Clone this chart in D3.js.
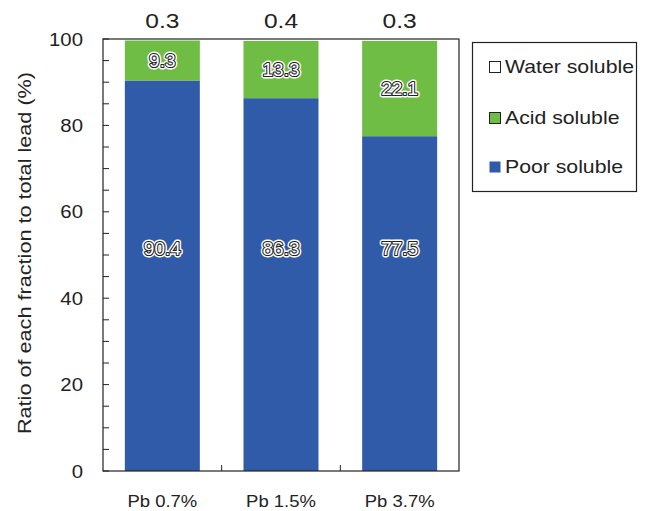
<!DOCTYPE html>
<html><head><meta charset="utf-8">
<script src="https://cdn.jsdelivr.net/npm/d3@7"></script>
<style>body{margin:0;background:#fff}svg{display:block}text{font-family:"Liberation Sans",Arial,sans-serif}</style>
</head><body>
<svg id="c" width="648" height="511"></svg>
<script>
const categories = ["Pb 0.7%", "Pb 1.5%", "Pb 3.7%"];
const poorSoluble = [90.4, 86.3, 77.5];
const acidSoluble = [9.3, 13.3, 22.1];
const waterSoluble = [0.3, 0.4, 0.3];
const yTicks = [0, 20, 40, 60, 80, 100];
const seriesNames = ["Water soluble", "Acid soluble", "Poor soluble"];
const colors = {"Poor soluble": "#305BA9", "Acid soluble": "#70BD45", "Water soluble": "#ffffff"};

const svg = d3.select("#c");
const m = {l: 103, r: 459, t: 39, b: 471};
const x = d3.scaleBand().domain(categories).range([m.l, m.r]).paddingInner(0.368).paddingOuter(0.184);
const y = d3.scaleLinear().domain([0, 100]).range([m.b, m.t]);

const rows = categories.map((c, i) => ({cat: c, "Poor soluble": poorSoluble[i], "Acid soluble": acidSoluble[i], "Water soluble": waterSoluble[i]}));
const stack = d3.stack().keys(["Poor soluble", "Acid soluble", "Water soluble"])(rows);

stack.forEach(s => {
  svg.append("g").selectAll("rect").data(s).join("rect")
    .attr("x", d => x(d.data.cat)).attr("width", x.bandwidth())
    .attr("y", d => y(d[1])).attr("height", d => y(d[0]) - y(d[1]))
    .attr("fill", colors[s.key]);
});

// frame
svg.append("rect").attr("x", m.l).attr("y", m.t).attr("width", m.r - m.l).attr("height", m.b - m.t)
  .attr("fill", "none").attr("stroke", "#222").attr("stroke-width", 1.2);

// stretched text helper
function stext(g, px, py, t, size, sx, anchor, rot) {
  return g.append("text")
    .attr("transform", `translate(${px},${py})${rot ? " rotate(" + rot + ")" : ""} scale(${sx},1)`)
    .attr("text-anchor", anchor).attr("dy", "0.36em")
    .attr("font-size", size).attr("fill", "#222").text(t);
}

// y axis ticks (inside)
const minor = d3.range(0, 101, 5);
svg.append("g").selectAll("line").data(minor).join("line")
  .attr("x1", m.l).attr("x2", m.l + 6).attr("y1", d => y(d)).attr("y2", d => y(d))
  .attr("stroke", "#222").attr("stroke-width", 1);
yTicks.forEach(v => stext(svg, 83, y(v), v, 18.5, 1.1, "end"));

// x ticks between bands
const step = x.step();
svg.append("g").selectAll("line").data(categories.slice(1)).join("line")
  .attr("x1", d => x(d) - x.paddingInner() * step / 2).attr("x2", d => x(d) - x.paddingInner() * step / 2)
  .attr("y1", m.b).attr("y2", m.b - 6).attr("stroke", "#222");
categories.forEach(c => stext(svg, x(c) + x.bandwidth() / 2, 501, c, 16.5, 1.12, "middle"));

// y title
stext(svg, 24, (m.t + m.b) / 2 - 2, "Ratio of each fraction to total lead (%)", 19, 1.14, "middle", -90);

// outlined labels
function outlined(xp, yp, t) {
  const g = svg.append("g");
  g.append("text").attr("x", xp).attr("y", yp).attr("dy", "0.36em").attr("text-anchor", "middle")
    .attr("font-size", 19).attr("fill", "#fff").attr("stroke", "#fff").attr("stroke-width", 5)
    .attr("stroke-linejoin", "round").text(t);
  g.append("text").attr("x", xp).attr("y", yp).attr("dy", "0.36em").attr("text-anchor", "middle")
    .attr("font-size", 19).attr("fill", "#fff").attr("stroke", "#222").attr("stroke-width", 2.2)
    .attr("stroke-linejoin", "round").attr("paint-order", "stroke").text(t);
}
categories.forEach((c, i) => {
  const cx = x(c) + x.bandwidth() / 2;
  outlined(cx, y(51.5), poorSoluble[i].toFixed(1));
  outlined(cx, y(poorSoluble[i] + acidSoluble[i] / 2), acidSoluble[i].toFixed(1));
  stext(svg, cx, 20, waterSoluble[i].toFixed(1), 21, 1.17, "middle");
});

// legend
svg.append("rect").attr("x", 472.5).attr("y", 42.5).attr("width", 164).attr("height", 149)
  .attr("fill", "#fff").attr("stroke", "#222").attr("stroke-width", 1.2);
const ly = [67, 118, 167];
seriesNames.forEach((n, i) => {
  svg.append("rect").attr("x", 489.5).attr("y", ly[i] - 5.5).attr("width", 11).attr("height", 11)
    .attr("fill", colors[n]).attr("stroke", n === "Poor soluble" ? "none" : "#222").attr("stroke-width", 1);
  stext(svg, 505, ly[i], n, 18, 1.18, "start");
});
</script>
</body></html>
